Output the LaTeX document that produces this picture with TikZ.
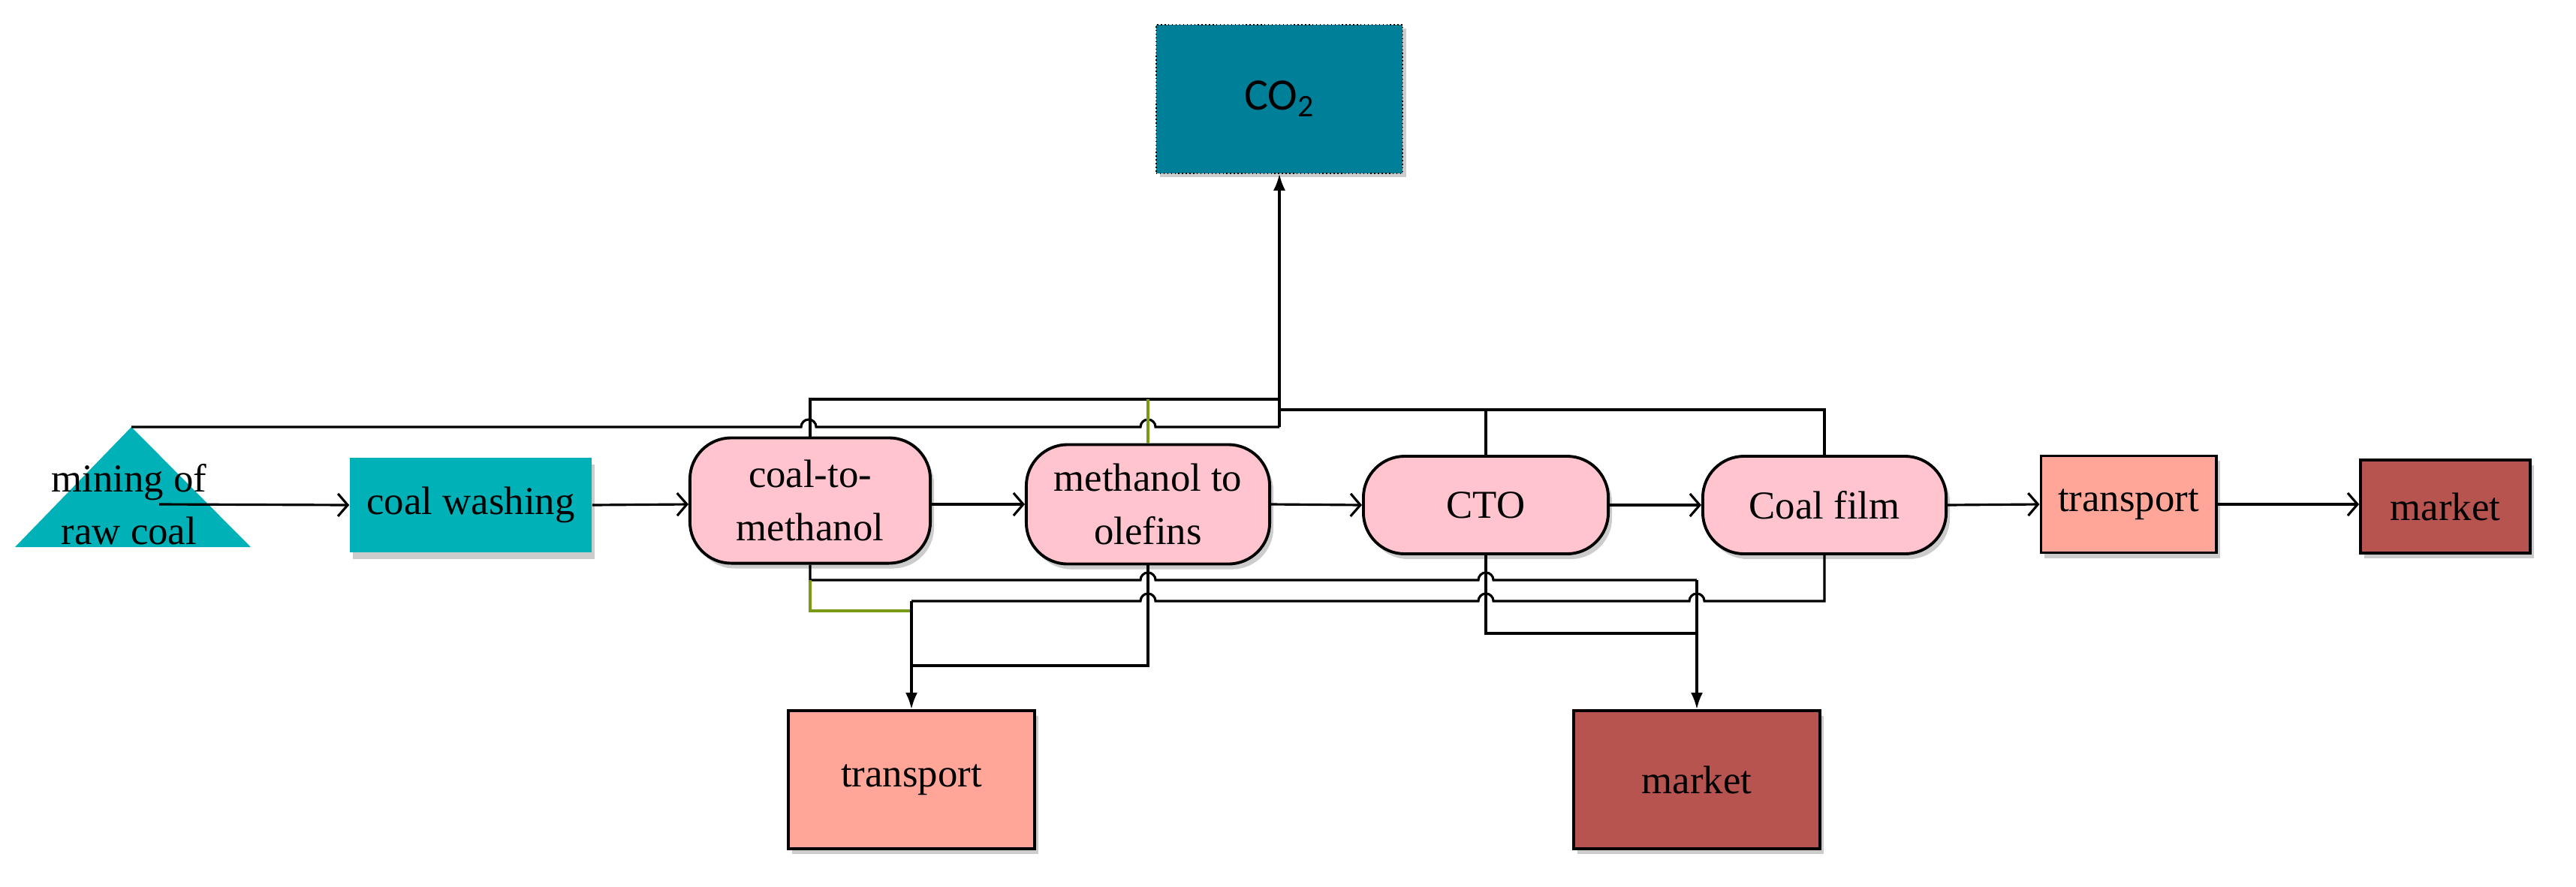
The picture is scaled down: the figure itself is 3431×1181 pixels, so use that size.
\documentclass[tikz,border=0pt]{standalone}
\usepackage{fontspec}
\setmainfont{Liberation Serif}
\newfontfamily\cosans{Carlito}
\usetikzlibrary{arrows.meta,shadows}
\definecolor{teal1}{HTML}{00B2B8}
\definecolor{co2c}{HTML}{007F99}
\definecolor{pinkc}{HTML}{FFC4CE}
\definecolor{salmon}{HTML}{FFA699}
\definecolor{marketc}{HTML}{B85450}
\definecolor{greenl}{HTML}{7A9A16}
\begin{document}
\begin{tikzpicture}[x=0.01cm,y=-0.01cm,
  lbl/.style={font=\fontsize{15}{20}\selectfont, align=center, inner sep=0pt},
  shad/.style={drop shadow={shadow xshift=0.05cm, shadow yshift=-0.07cm, fill=black!20, opacity=1}},
  proc/.style={lbl, draw, line width=1.1pt, fill=pinkc, rounded corners=0.55cm, shad},
  box/.style={lbl, draw, line width=1.1pt, shad},
  ln/.style={line width=0.9pt, black},
  gl/.style={line width=0.9pt, greenl},
  flow/.style={ln, -{Straight Barb[length=0.13cm,width=0.3cm]}},
  down/.style={ln, -{Latex[length=0.22cm,width=0.16cm]}},
  jmp/.style={}]
\useasboundingbox (0,0) rectangle (3431,1181);
% nodes
\fill[teal1] (175,569) -- (334,729) -- (20,729) -- cycle;
\coordinate (apex) at (175,569);
\node[lbl] (mine) at (172,672) {mining of\\raw coal};
\node[lbl, fill=teal1, minimum width=3.22cm, minimum height=1.26cm,
  drop shadow={shadow xshift=0.04cm, shadow yshift=-0.09cm, fill=black!20, opacity=1}] (wash) at (627,673) {coal washing};
\node[proc, minimum width=3.2cm, minimum height=1.67cm] (ctm) at (1079,667) {coal-to-\\methanol};
\node[proc, minimum width=3.24cm, minimum height=1.59cm] (mto) at (1529,672) {methanol to\\olefins};
\node[proc, minimum width=3.26cm, minimum height=1.3cm] (cto) at (1979,673) {CTO};
\node[proc, minimum width=3.24cm, minimum height=1.3cm] (film) at (2430,673) {Coal film};
\node[box, fill=salmon, minimum width=2.33cm, minimum height=1.29cm] (tr) at (2835,672) {transport};
\node[box, fill=marketc, minimum width=2.26cm, minimum height=1.24cm] (mk) at (3257,675) {market};
\node[box, fill=salmon, minimum width=3.28cm, minimum height=1.84cm] (tb) at (1214,1039) {transport};
\node[box, fill=marketc, minimum width=3.28cm, minimum height=1.84cm] (mb) at (2260,1039) {market};
\node[lbl, font=\cosans\fontsize{17}{20}\selectfont, draw, densely dotted, fill=co2c, minimum width=3.28cm, minimum height=1.98cm,
  drop shadow={shadow xshift=0.05cm, shadow yshift=-0.05cm, fill=black!20, opacity=1}] (co2) at (1704,132) {CO\textsubscript{2}};
% main flow
\draw[flow] (212,672) -- (wash.west);
\draw[flow] (wash.east) -- (ctm.west |- 0,672);
\draw[flow] (ctm.east |- 0,672) -- (mto.west);
\draw[flow] (mto.east) -- (cto.west);
\draw[flow] (cto.east) -- (film.west);
\draw[flow] (film.east) -- (tr.west);
\draw[flow] (tr.east) -- (mk.west |- 0,672);
% top network
\draw[ln] (apex) -- (1067,569) arc[start angle=180,end angle=0,radius=0.1cm] -- (1519,569) arc[start angle=180,end angle=0,radius=0.1cm] -- (1704,569);
\draw[ln] (ctm.north) -- (1079,532) -- (1704,532);
\draw[gl] (mto.north) -- (1529,532);
\draw[down] (1704,569) -- (co2.south);
\draw[ln] (film.north) -- (2430,546) -- (1704,546);
\draw[ln] (cto.north) -- (1979,546);
% bottom network
\draw[ln] (ctm.south) -- (1079,773) -- (1519,773) arc[start angle=180,end angle=0,radius=0.1cm] -- (1969,773) arc[start angle=180,end angle=0,radius=0.1cm] -- (2260,773);
\draw[down] (2260,773) -- (mb.north);
\draw[gl] (1079,773) -- (1079,814) -- (1214,814);
\draw[down] (1214,801) -- (tb.north);
\draw[ln] (film.south) -- (2430,801) -- (2270,801) arc[start angle=0,end angle=180,radius=0.1cm] -- (1989,801) arc[start angle=0,end angle=180,radius=0.1cm] -- (1539,801) arc[start angle=0,end angle=180,radius=0.1cm] -- (1214,801);
\draw[ln] (mto.south) -- (1529,887) -- (1214,887);
\draw[ln] (cto.south) -- (1979,844) -- (2260,844);
\end{tikzpicture}
\end{document}
